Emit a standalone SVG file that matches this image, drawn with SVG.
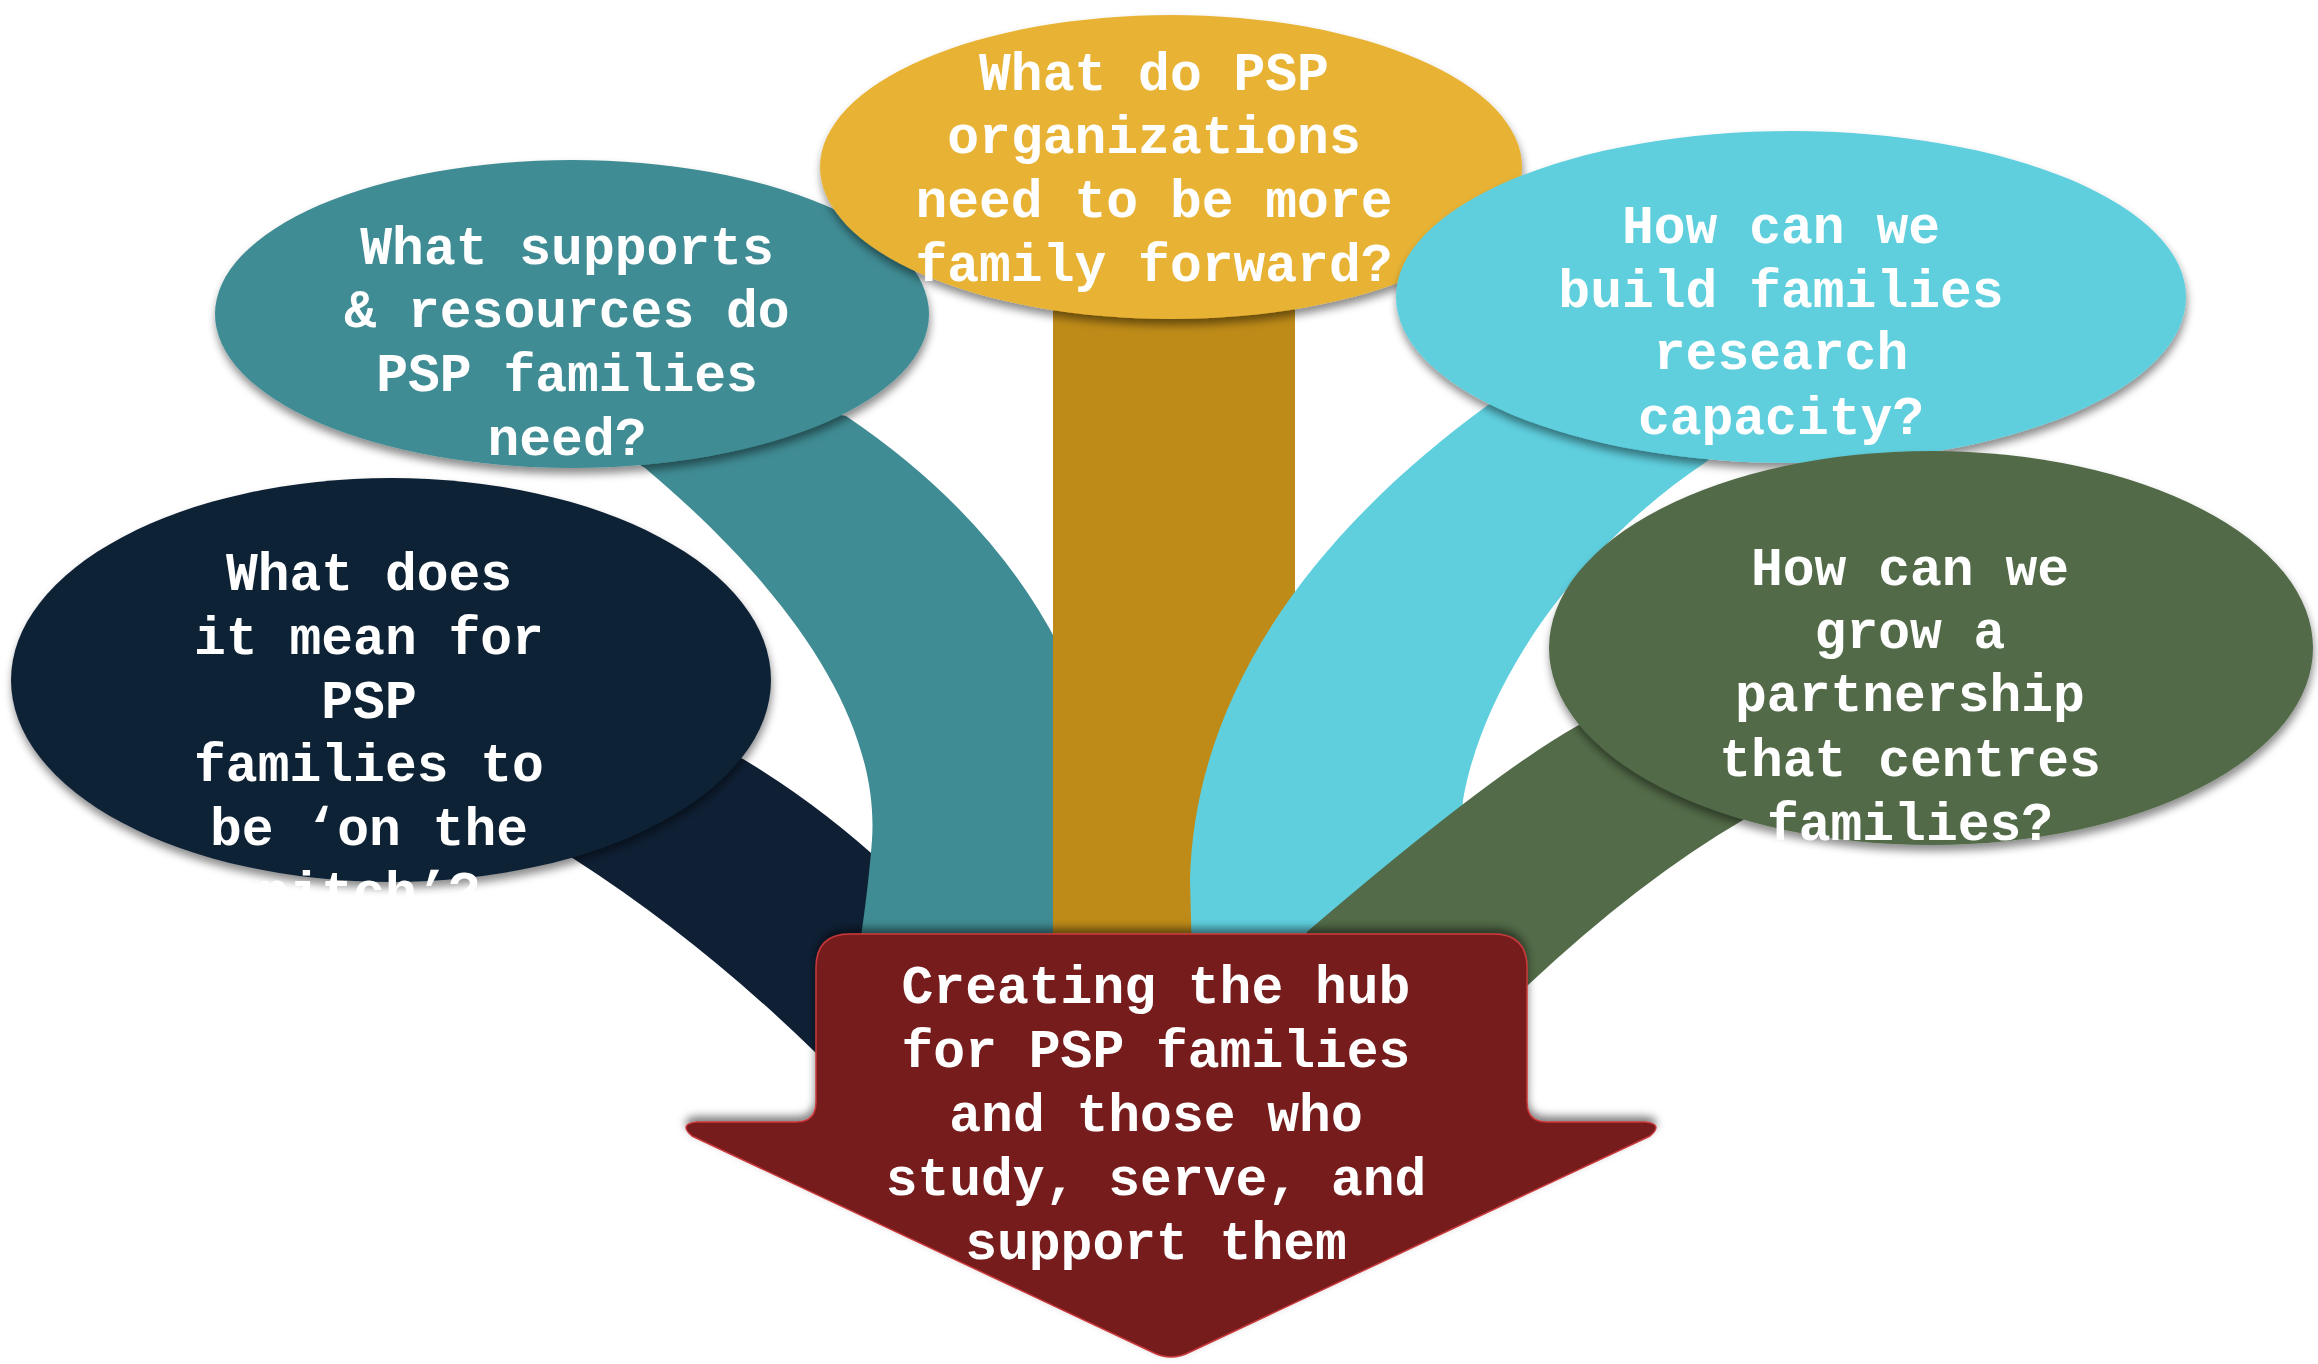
<svg xmlns="http://www.w3.org/2000/svg" width="2318" height="1364" viewBox="0 0 2318 1364">
<style>
.t{font-family:"Liberation Mono","Courier New",monospace;font-weight:bold;font-size:53px;fill:#FFFFFF;text-anchor:middle}
.sh{filter:url(#esh)}
</style>
<defs>
<filter id="esh" x="-10%" y="-10%" width="120%" height="130%">
<feDropShadow dx="1" dy="6" stdDeviation="4" flood-color="#000" flood-opacity="0.45"/>
</filter>
<filter id="ash" x="-10%" y="-10%" width="120%" height="120%">
<feDropShadow dx="0" dy="-5" stdDeviation="4" flood-color="#000" flood-opacity="0.5"/>
</filter>
<clipPath id="navyclip"><rect x="0" y="0" width="800" height="897"/></clipPath>
</defs>
<rect width="2318" height="1364" fill="#FFFFFF"/>
<g id="connectors">
<path id="band-navy" fill="#0F2035" d="M 650,720 L 743,759 Q 820,805 890,870 L 1000,1000 L 900,1130 L 816,1053 Q 700,940 574,859 L 520,830 Z"/>
<path id="band-teal" fill="#408C94" d="M 600,440 L 645,468 C 790,590 880,720 872,840 C 869,880 862,940 850,1000 L 1100,1000 L 1090,720 Q 1030,540 846,416 L 760,400 Z"/>
<rect id="band-gold" fill="#BE8B18" x="1053" y="280" width="242" height="680"/>
<path id="band-cyan" fill="#5FCFDE" d="M 1550,380 L 1488,405 C 1330,520 1195,680 1190,880 L 1193,1000 L 1450,1000 L 1463,800 C 1480,700 1560,560 1706,462 L 1760,420 Z"/>
<path id="band-green" fill="#536B48" d="M 1650,690 L 1577,726 Q 1490,775 1308,931 L 1250,1000 L 1440,1080 L 1527,986 Q 1640,880 1743,820 L 1800,780 Z"/>
</g>
<g id="node-navy">
<ellipse class="sh" cx="391" cy="680" rx="380" ry="202" fill="#0F2035"/>
<g clip-path="url(#navyclip)">
<text class="t" x="369" y="590">What does</text>
<text class="t" x="369" y="654">it mean for</text>
<text class="t" x="369" y="718">PSP</text>
<text class="t" x="369" y="781">families to</text>
<text class="t" x="369" y="845">be ‘on the</text>
<text class="t" x="369" y="909">pitch’?</text>
</g>
</g>
<g id="node-teal">
<ellipse class="sh" cx="572" cy="314" rx="357" ry="154" fill="#408C94"/>
<text class="t" x="567" y="264">What supports</text>
<text class="t" x="567" y="327">&amp; resources do</text>
<text class="t" x="567" y="391">PSP families</text>
<text class="t" x="567" y="455">need?</text>
</g>
<g id="node-gold">
<ellipse class="sh" cx="1171" cy="167" rx="351" ry="152" fill="#E8B335"/>
<text class="t" x="1154" y="90">What do PSP</text>
<text class="t" x="1154" y="153">organizations</text>
<text class="t" x="1154" y="217">need to be more</text>
<text class="t" x="1154" y="281">family forward?</text>
</g>
<g id="node-cyan">
<ellipse class="sh" cx="1791" cy="297" rx="395" ry="166" fill="#5FCFDE"/>
<text class="t" x="1781" y="243">How can we</text>
<text class="t" x="1781" y="307">build families</text>
<text class="t" x="1781" y="369">research</text>
<text class="t" x="1781" y="434">capacity?</text>
</g>
<g id="node-green">
<ellipse class="sh" cx="1931" cy="648" rx="382" ry="197" fill="#536B48"/>
<text class="t" x="1910" y="585">How can we</text>
<text class="t" x="1910" y="648">grow a</text>
<text class="t" x="1910" y="711">partnership</text>
<text class="t" x="1910" y="776">that centres</text>
<text class="t" x="1910" y="840">families?</text>
</g>
<g id="node-hub">
<path filter="url(#ash)" fill="#761B1C" stroke="#C9383A" stroke-width="1.5" d="M 850,934 H 1493 Q 1527,934 1527,968 V 1102 Q 1527,1122 1547,1122 H 1645 Q 1664,1124 1650,1136 L 1190,1352 Q 1171,1362 1152,1352 L 692,1136 Q 678,1124 697,1122 H 796 Q 816,1122 816,1102 V 968 Q 816,934 850,934 Z"/>
<text class="t" x="1156" y="1003">Creating the hub</text>
<text class="t" x="1156" y="1067">for PSP families</text>
<text class="t" x="1156" y="1131">and those who</text>
<text class="t" x="1156" y="1195">study, serve, and</text>
<text class="t" x="1156" y="1259">support them</text>
</g>
</svg>
